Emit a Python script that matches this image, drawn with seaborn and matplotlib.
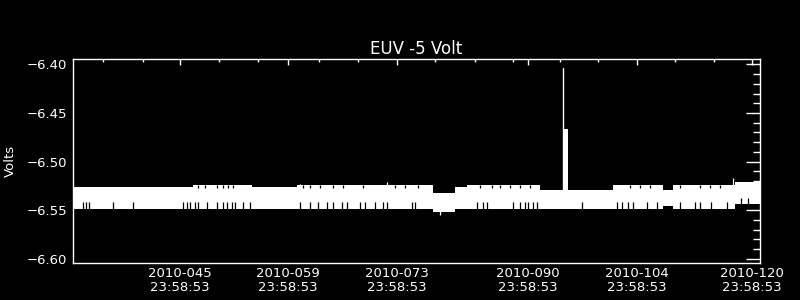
import numpy as np
import matplotlib
matplotlib.use("Agg")
import matplotlib.pyplot as plt
import seaborn as sns
from matplotlib.ticker import FixedLocator, MultipleLocator, FuncFormatter

# ---------------- data (day of year 2010, Volts) ----------------
title = "EUV -5 Volt"
ylabel = "Volts"

# envelope segments of the noisy band
seg_start = [31.19, 46.68, 54.29, 60.10, 77.66, 80.50, 82.05, 91.48, 100.90, 107.36, 108.65, 116.65]
seg_end_last = 119.88
seg_top      = [-6.526, -6.524, -6.526, -6.524, -6.532, -6.526, -6.524, -6.529, -6.524, -6.529, -6.524, -6.521]
seg_core_top = [-6.528, -6.527, -6.528, -6.527, -6.534, -6.529, -6.527, -6.531, -6.527, -6.531, -6.527, -6.524]
seg_core_bot = [-6.542, -6.542, -6.542, -6.542, -6.545, -6.543, -6.542, -6.542, -6.542, -6.542, -6.542, -6.537]
seg_bot      = [-6.549, -6.549, -6.549, -6.549, -6.552, -6.549, -6.549, -6.549, -6.549, -6.546, -6.549, -6.544]

# days where the lower / upper fringe of the band drops out
lower_gaps = [32.48, 32.86, 33.25, 36.35, 38.93, 45.39, 45.90, 46.29, 46.94, 47.32, 48.49,
              49.78, 50.55, 51.07, 51.71, 52.10, 53.13, 54.04, 60.49, 61.78, 62.82, 63.98,
              64.75, 65.91, 66.56, 68.24, 68.88, 70.17, 71.21, 71.72, 74.95, 75.34, 83.34,
              84.12, 84.63, 87.99, 88.89, 89.54, 89.93, 90.57, 91.09, 96.90, 101.42, 102.06,
              102.84, 103.48, 105.29, 106.58, 109.55, 111.49, 112.13, 113.6, 115.6, 117.4, 118.3]
upper_gaps = [47.32, 48.23, 49.78, 50.55, 51.20, 51.84, 60.88, 61.78, 63.07, 64.75, 66.04,
              68.62, 72.76, 74.05, 75.73, 83.73, 85.28, 86.31, 87.60, 88.89, 90.18, 103.09,
              104.39, 105.68, 109.55, 112.13, 113.42, 114.71]

# isolated excursions
spike_days = [60.5, 71.7, 78.6, 116.4]
spike_vals = [-6.523, -6.521, -6.555, -6.517]

# the big event
event_day = 94.48
event_peak = -6.404
event_end = 95.05
event_plateau = -6.466

# axis ticks
xtick_pos = [45.0, 58.94, 73.01, 89.93, 104.0, 118.84]
xtick_labels = ["2010-045\n23:58:53", "2010-059\n23:58:53", "2010-073\n23:58:53",
                "2010-090\n23:58:53", "2010-104\n23:58:53", "2010-120\n23:58:53"]
xminor_pos = [35.06, 40.22, 50.03, 55.07, 62.94, 67.98, 77.92, 83.08, 87.99, 94.06,
              98.96, 108.9, 113.94]
ytick_pos = [-6.60, -6.55, -6.50, -6.45, -6.40]

# ---------------- style ----------------
sns.set_theme(style="dark", rc={
    "figure.facecolor": "black", "axes.facecolor": "black",
    "axes.edgecolor": "white", "text.color": "white",
    "axes.labelcolor": "white", "xtick.color": "white", "ytick.color": "white",
    "axes.grid": False,
})
plt.rcParams["font.family"] = ["DejaVu Sans"]

fig = plt.figure(figsize=(8, 3), dpi=100)
ax = fig.add_axes([0.091, 0.123, 0.859, 0.680])

# ---------------- band ----------------
xs = np.array(seg_start + [seg_end_last])
def ext(a):
    return np.array(a + [a[-1]])

ax.fill_between(xs, ext(seg_bot), ext(seg_top), step="post", color="white", lw=0)

starts = np.array(seg_start)
def seg_idx(d):
    return np.searchsorted(starts, d, side="right") - 1

lg = np.array(lower_gaps)
li = seg_idx(lg)
ax.vlines(lg, np.array(seg_bot)[li], np.array(seg_core_bot)[li], color="black", lw=0.9)
ug = np.array(upper_gaps)
ui = seg_idx(ug)
ax.vlines(ug, np.array(seg_core_top)[ui], np.array(seg_top)[ui], color="black", lw=0.9)

sd = np.array(spike_days)
si = seg_idx(sd)
mid = (np.array(seg_core_top)[si] + np.array(seg_core_bot)[si]) / 2
ax.vlines(sd, mid, np.array(spike_vals), color="white", lw=0.9)

# event
ev_idx = seg_idx(event_day)
ax.bar(event_day, event_plateau - seg_core_top[ev_idx], bottom=seg_core_top[ev_idx],
       width=event_end - event_day, align="edge", color="white", lw=0)
sns.lineplot(x=[event_day, event_day], y=[seg_core_top[ev_idx], event_peak],
             estimator=None, sort=False, color="white", lw=1.0, ax=ax)

# ---------------- axes ----------------
ax.set_xlim(31.19, seg_end_last)
ax.set_ylim(-6.6044, -6.3945)

ax.xaxis.set_major_locator(FixedLocator(xtick_pos))
ax.set_xticklabels(xtick_labels, fontsize=9.5, linespacing=1.12)
ax.xaxis.set_minor_locator(FixedLocator(xminor_pos))
ax.yaxis.set_major_locator(FixedLocator(ytick_pos))
ax.yaxis.set_major_formatter(FuncFormatter(
    lambda v, p: ("\u2212" if v < 0 else "") + f"{abs(v):.2f}"))
ax.yaxis.set_minor_locator(MultipleLocator(0.01))
for lab in ax.get_yticklabels():
    lab.set_fontsize(9.5)

ax.tick_params(axis="both", which="both", direction="in", top=True, right=True,
               colors="white", width=1)
ax.tick_params(axis="x", which="major", length=4.3, pad=3)
ax.tick_params(axis="x", which="minor", length=2.3)
ax.tick_params(axis="y", which="major", length=10, pad=4, labelsize=9.5)
ax.tick_params(axis="y", which="minor", length=5)

for s in ax.spines.values():
    s.set_color("white")
    s.set_linewidth(1)

ax.set_title(title, fontsize=12, color="white", pad=4)
ax.set_ylabel(ylabel, fontsize=9.5, color="white")
ax.yaxis.set_label_coords(-0.0815, 0.5)

fig.savefig("out.png", dpi=100, facecolor="black")
